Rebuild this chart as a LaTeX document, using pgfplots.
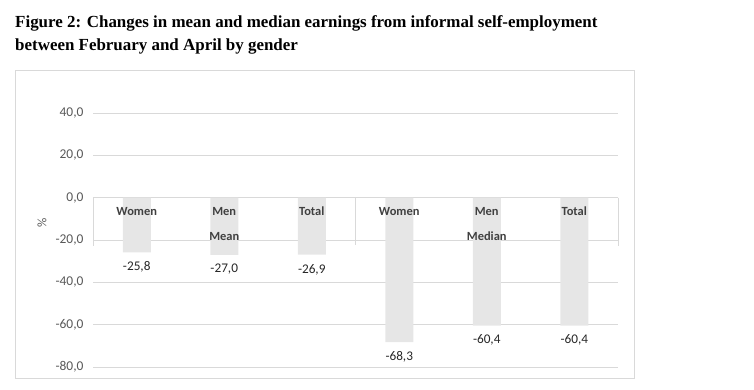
\documentclass[border=0pt]{standalone}
\usepackage{pgfplots}
\pgfplotsset{compat=1.18}
\usepackage{fontspec}
\setmainfont{Carlito}
\newfontfamily\titlefont{Liberation Serif}
\definecolor{gridc}{HTML}{D9D9D9}
\definecolor{barc}{HTML}{E6E6E6}
\definecolor{txtc}{HTML}{595959}
\definecolor{catc}{HTML}{404040}
\tikzset{catlab/.style={text=catc, font=\bfseries\fontsize{12.5}{14}\selectfont, text height=1.6ex, text depth=0.3ex}}
\begin{document}
\begin{tikzpicture}[x=1bp,y=1bp]
\path[use as bounding box] (0,0) rectangle (754,389);
\draw[gridc, line width=0.9bp] (15,11) rectangle (634,319);
\node[anchor=base west, inner sep=0, font=\titlefont\bfseries\fontsize{17}{19}\selectfont] at (15,362) {Figure 2: Changes in mean and median earnings from informal self-employment};
\node[anchor=base west, inner sep=0, font=\titlefont\bfseries\fontsize{17}{19}\selectfont] at (15,339) {between February and April by gender};
\node[rotate=90, text=txtc, font=\fontsize{13}{15}\selectfont] at (42,166) {\%};
\begin{axis}[
  at={(93bp,22bp)}, anchor=south west,
  scale only axis, width=525bp, height=254bp,
  xmin=-0.5, xmax=5.5, ymin=-80, ymax=40,
  axis line style={draw=none},
  xtick=\empty,
  ytick={-80,-60,-40,-20,0,20,40},
  ymajorgrids, grid style={gridc, line width=0.9bp},
  major tick length=0pt,
  /pgf/number format/.cd, fixed, fixed zerofill, precision=1, use comma, assume math mode=true,
  /pgfplots/.cd,
  yticklabel style={text=txtc, font=\fontsize{13.5}{15}\selectfont, xshift=-6bp},
  clip=false,
  ybar, bar width=28bp,
]
\addplot[fill=barc, draw=none, bar shift=0pt,
  nodes near coords,
  every node near coord/.append style={anchor=north, yshift=-6bp, text=black!85, font=\fontsize{13.3}{15}\selectfont}]
  coordinates {(0,-25.8) (1,-27.0) (2,-26.9) (3,-68.3) (4,-60.4) (5,-60.4)};
\draw[gridc, line width=0.9bp] (axis cs:-0.5,0) -- (axis cs:-0.5,-23);
\draw[gridc, line width=0.9bp] (axis cs:2.5,0) -- (axis cs:2.5,-22.5);
\draw[gridc, line width=0.9bp] (axis cs:5.5,0) -- (axis cs:5.5,-23);
\node[catlab] at (axis cs:0,-7.1) {Women};
\node[catlab] at (axis cs:1,-7.1) {Men};
\node[catlab] at (axis cs:2,-7.1) {Total};
\node[catlab] at (axis cs:3,-7.1) {Women};
\node[catlab] at (axis cs:4,-7.1) {Men};
\node[catlab] at (axis cs:5,-7.1) {Total};
\node[catlab] at (axis cs:1,-18.9) {Mean};
\node[catlab] at (axis cs:4,-18.9) {Median};
\end{axis}
\end{tikzpicture}
\end{document}
